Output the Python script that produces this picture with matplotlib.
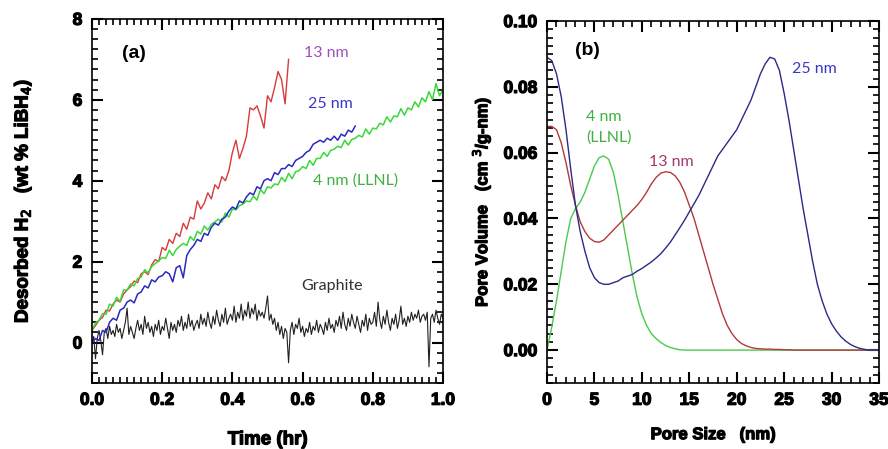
import numpy as np
import matplotlib
matplotlib.use('Agg')
import matplotlib.pyplot as plt
import matplotlib.patheffects as pe
from matplotlib.ticker import MultipleLocator

# ---- panel (a): desorbed H2 vs time ----
dt = 0.01          # sampling of the sample traces (hr)
dt_graphite = 0.005

h2_13nm = [0.30, 0.42, 0.55, 0.62, 0.80, 0.78, 0.95, 1.05, 1.00, 1.20,
           1.30, 1.38, 1.52, 1.48, 1.70, 1.75, 1.68, 1.92, 2.05, 2.00,
           2.35, 2.28, 2.55, 2.45, 2.70, 2.62, 2.95, 2.80, 3.10, 3.05,
           3.50, 3.30, 3.45, 3.70, 3.55, 3.90, 3.80, 4.10, 4.00, 4.25,
           4.70, 5.00, 4.55, 4.80, 5.10, 5.80, 5.75, 5.85, 5.60, 5.30,
           6.10, 5.95, 6.30, 6.70, 6.50, 5.90, 7.00]

h2_25nm = [0.00, 0.10, 0.05, 0.30, 0.25, 0.50, 0.60, 0.55, 0.80, 0.85,
           1.00, 1.05, 0.98, 1.20, 1.25, 1.40, 1.35, 1.55, 1.50, 1.62,
           1.65, 1.75, 1.70, 1.50, 1.85, 1.90, 1.60, 2.15, 2.30, 2.40,
           2.55, 2.50, 2.70, 2.65, 2.85, 2.95, 2.90, 3.05, 3.10, 3.25,
           3.35, 3.30, 3.50, 3.45, 3.60, 3.70, 3.65, 3.85, 3.80, 4.00,
           4.05, 4.00, 4.20, 4.15, 4.30, 4.30, 4.40, 4.35, 4.50, 4.55,
           4.60, 4.70, 4.75, 4.90, 4.95, 5.00, 4.95, 5.05, 5.00, 5.10,
           5.00, 5.15, 5.10, 5.25, 5.20, 5.35]

h2_4nm = [0.30, 0.48, 0.55, 0.72, 0.70, 0.95, 0.90, 1.12, 1.02, 1.30,
          1.30, 1.45, 1.40, 1.58, 1.62, 1.80, 1.72, 1.88, 1.95, 2.02,
          2.10, 2.08, 2.28, 2.15, 2.30, 2.38, 2.45, 2.40, 2.62, 2.52,
          2.75, 2.68, 2.88, 2.78, 2.92, 2.98, 3.05, 2.98, 3.20, 3.10,
          3.30, 3.28, 3.38, 3.42, 3.50, 3.48, 3.62, 3.52, 3.78, 3.68,
          3.85, 3.82, 3.92, 3.90, 4.08, 3.98, 4.18, 4.05, 4.22, 4.25,
          4.35, 4.30, 4.50, 4.38, 4.55, 4.55, 4.70, 4.60, 4.75, 4.78,
          4.85, 4.82, 5.00, 4.88, 5.02, 5.05, 5.12, 5.08, 5.28, 5.15,
          5.30, 5.28, 5.42, 5.38, 5.58, 5.45, 5.60, 5.58, 5.78, 5.62,
          5.80, 5.75, 5.95, 5.82, 6.05, 5.95, 6.20, 6.00, 6.40, 6.10,
          6.25]

h2_graphite = [
    0.00, 0.15, -0.40, 0.10, 0.30, 0.05, -0.30, 0.25, 0.35, 0.10,
    0.40, 0.20, 0.30, 0.15, 0.45, 0.25, 0.35, 0.10, 0.30, 0.50,
    0.85, 0.20, 0.40, 0.25, 0.10, 0.35, 0.55, 0.30, 0.45, 0.20,
    0.65, 0.35, 0.50, 0.25, 0.40, 0.15, 0.45, 0.30, 0.55, 0.20,
    0.40, 0.30, 0.60, 0.35, 0.10, 0.50, 0.30, 0.45, 0.25, 0.55,
    0.40, 0.65, 0.30, 0.50, 0.35, 0.70, 0.40, 0.55, 0.30, 0.45,
    0.55, 0.35, 0.70, 0.45, 0.60, 0.40, 0.75, 0.50, 0.35, 0.65,
    0.45, 0.80, 0.55, 0.40, 0.70, 0.50, 0.85, 0.45, 0.60, 0.70,
    0.55, 0.90, 0.50, 0.75, 0.60, 0.95, 0.55, 0.80, 0.65, 1.00,
    0.60, 0.85, 0.70, 0.95, 0.55, 0.80, 0.65, 0.75, 0.60, 0.85,
    1.15, 0.55, 0.70, 0.45, 0.60, 0.30, 0.50, 0.20, 0.40, 0.10,
    0.35, 0.25, -0.50, 0.30, 0.50, 0.20, 0.45, 0.35, 0.60, 0.25,
    0.40, 0.15, 0.35, 0.25, 0.50, 0.20, 0.40, 0.30, 0.55, 0.25,
    0.45, 0.35, 0.20, 0.50, 0.30, 0.60, 0.35, 0.45, 0.25, 0.55,
    0.40, 0.65, 0.35, 0.75, 0.45, 0.30, 0.60, 0.40, 0.70, 0.50,
    0.35, 0.65, 0.45, 0.25, 0.55, 0.40, 0.70, 0.30, 0.60, 0.45,
    0.50, 0.75, 0.40, 1.00, 0.55, 0.35, 0.65, 0.45, 0.80, 0.50,
    0.30, 0.60, 0.45, 0.70, 0.35, 0.55, 0.90, 0.45, 0.60, 0.40,
    0.65, 0.50, 0.75, 0.55, 0.70, 0.60, 0.80, 0.50, 0.65, 0.70,
    0.55, 0.75, -0.60, 0.60, 0.70, 0.50, 0.80, 0.60, 0.45, 0.70,
    0.60]

# ---- panel (b): pore size distribution, every 0.5 nm ----
pore_size = np.arange(0, 35.5, 0.5)

pv_25nm = [0.089, 0.088, 0.084, 0.077, 0.067, 0.055, 0.044, 0.036, 0.030,
           0.025, 0.022, 0.0205, 0.020, 0.020, 0.0205, 0.021, 0.022, 0.0225,
           0.023, 0.024, 0.0248, 0.0258, 0.0268, 0.028, 0.0293, 0.031,
           0.0328, 0.035, 0.0372, 0.0395, 0.042, 0.0445, 0.047, 0.050,
           0.053, 0.056, 0.059, 0.061, 0.063, 0.065, 0.067, 0.070, 0.073,
           0.076, 0.080, 0.084, 0.087, 0.089, 0.0885, 0.085, 0.078, 0.070,
           0.061, 0.052, 0.043, 0.035, 0.027, 0.020, 0.015, 0.011, 0.008,
           0.0058, 0.004, 0.0027, 0.0017, 0.001, 0.0005, 0.0002, 0.0, 0.0,
           0.0]

pv_13nm = [0.068, 0.068, 0.067, 0.063, 0.057, 0.050, 0.044, 0.039, 0.036,
           0.034, 0.033, 0.0328, 0.0335, 0.035, 0.0365, 0.038, 0.0395,
           0.041, 0.0425, 0.044, 0.0458, 0.048, 0.0505, 0.0525, 0.0538,
           0.0542, 0.054, 0.053, 0.051, 0.048, 0.044, 0.040, 0.035, 0.030,
           0.025, 0.020, 0.0155, 0.011, 0.0075, 0.005, 0.0032, 0.002,
           0.0013, 0.0008, 0.0005, 0.0004, 0.0003, 0.0003, 0.0002, 0.0002,
           0.0001, 0.0001, 0.0, 0.0, 0.0, 0.0, 0.0, 0.0, 0.0, 0.0, 0.0, 0.0,
           0.0, 0.0, 0.0, 0.0, 0.0, 0.0, 0.0, 0.0, 0.0]

pv_4nm = [0.0, 0.007, 0.015, 0.024, 0.033, 0.040, 0.043, 0.045, 0.048,
          0.052, 0.056, 0.0585, 0.059, 0.058, 0.054, 0.047, 0.039, 0.031,
          0.023, 0.016, 0.011, 0.0075, 0.005, 0.0035, 0.0023, 0.0014,
          0.0008, 0.0004, 0.0001, 0.0, 0.0, 0.0, 0.0, 0.0, 0.0, 0.0, 0.0,
          0.0, 0.0, 0.0, 0.0, 0.0, 0.0, 0.0, 0.0, 0.0, 0.0, 0.0, 0.0, 0.0,
          0.0, 0.0, 0.0, 0.0, 0.0, 0.0, 0.0, 0.0, 0.0, 0.0, 0.0, 0.0, 0.0,
          0.0, 0.0, 0.0, 0.0, 0.0, 0.0, 0.0, 0.0]

# heavy look of the original axis text
heavy = [pe.withStroke(linewidth=0.9, foreground='black')]


def t_axis(values, step=dt):
    return np.arange(len(values)) * step


def style_axes(ax):
    ax.tick_params(which='both', direction='in', top=True, right=True,
                   color='black')
    ax.tick_params(which='major', length=8, width=1.5, labelsize=12.5, pad=7)
    ax.tick_params(which='minor', length=4.5, width=1.2)
    for lab in ax.get_xticklabels() + ax.get_yticklabels():
        lab.set_fontweight('bold')
        lab.set_path_effects(heavy)
    for s in ax.spines.values():
        s.set_linewidth(1.2)


plt.rcParams['font.family'] = ['Liberation Sans', 'DejaVu Sans']
fig = plt.figure(figsize=(8.88, 4.49), dpi=100)

# panel (a)
ax1 = fig.add_axes([0.1036, 0.147, 0.3953, 0.811])
ax1.plot(t_axis(h2_graphite, dt_graphite), h2_graphite, color='#202020', lw=0.8)
ax1.plot(t_axis(h2_13nm), h2_13nm, color='#d83a3a', lw=1.0)
ax1.plot(t_axis(h2_4nm), h2_4nm, color='#3ad83a', lw=1.1)
ax1.plot(t_axis(h2_25nm), h2_25nm, color='#2a2ac0', lw=1.1)
ax1.xaxis.set_minor_locator(MultipleLocator(0.02))
ax1.yaxis.set_major_locator(MultipleLocator(2))
ax1.yaxis.set_minor_locator(MultipleLocator(0.25))
ax1.set_xticks([0.0, 0.2, 0.4, 0.6, 0.8, 1.0])
ax1.set_xticklabels(['0.0', '0.2', '0.4', '0.6', '0.8', '1.0'])
ax1.set_xlim(0, 1.0)
ax1.set_ylim(-1, 8)
style_axes(ax1)
ax1.set_xlabel('Time (hr)', fontsize=13.5, fontweight='bold', labelpad=17,
               path_effects=heavy)
ax1.set_ylabel('Desorbed H$_2$   (wt % LiBH$_4$)', fontsize=13.5,
               fontweight='bold', labelpad=28, path_effects=heavy)

ann = dict(fontsize=11.5, family=['Lato', 'DejaVu Sans'])
ax1.text(0.12, 7.15, '(a)', fontsize=14, fontweight='bold', ha='center',
         va='center')
ax1.text(0.605, 7.15, '13 nm', color='#a050c0', va='center', **ann)
ax1.text(0.615, 5.9, '25 nm', color='#3838c8', va='center', **ann)
ax1.text(0.63, 4.0, '4 nm (LLNL)', color='#40b040', va='center', **ann)
ax1.text(0.595, 1.4, 'Graphite', color='#303030', va='center', **ann)

# panel (b)
ax2 = fig.add_axes([0.616, 0.147, 0.3739, 0.806])
ax2.plot(pore_size, pv_4nm, color='#4cc84c', lw=1.0)
ax2.plot(pore_size, pv_13nm, color='#b03a3a', lw=1.0)
ax2.plot(pore_size, pv_25nm, color='#2a2a88', lw=1.0)
ax2.xaxis.set_major_locator(MultipleLocator(5))
ax2.xaxis.set_minor_locator(MultipleLocator(1))
ax2.yaxis.set_minor_locator(MultipleLocator(0.0025))
ax2.set_yticks([0.0, 0.02, 0.04, 0.06, 0.08, 0.10])
ax2.set_yticklabels(['0.00', '0.02', '0.04', '0.06', '0.08', '0.10'])
ax2.set_xlim(0, 35)
ax2.set_ylim(-0.01, 0.10)
style_axes(ax2)
ax2.set_xlabel('Pore Size   (nm)', fontsize=12, fontweight='bold',
               labelpad=14, path_effects=heavy)
ax2.set_ylabel('Pore Volume   (cm $^3$/g-nm)', fontsize=12,
               fontweight='bold', labelpad=8, path_effects=heavy)

ax2.text(4.3, 0.0912, '(b)', fontsize=14, fontweight='bold', ha='center',
         va='center')
ax2.text(25.8, 0.0855, '25 nm', color='#3838c8', va='center', **ann)
ax2.text(4.1, 0.0709, '4 nm', color='#40b040', va='center', **ann)
ax2.text(4.1, 0.0645, '(LLNL)', color='#40b040', va='center', **ann)
ax2.text(10.8, 0.0573, '13 nm', color='#a03a70', va='center', **ann)

fig.savefig('out.png', dpi=100)
